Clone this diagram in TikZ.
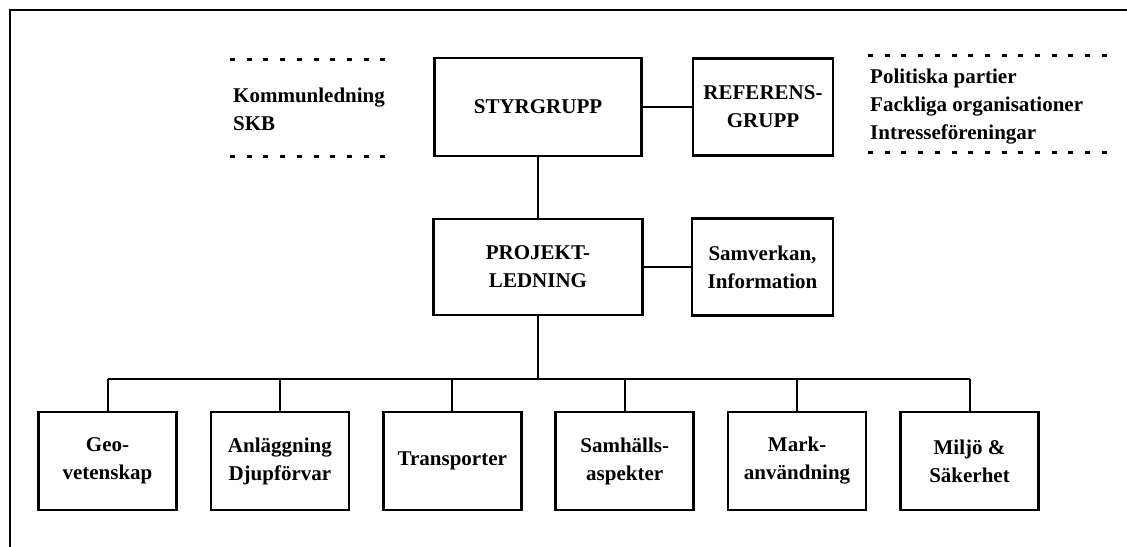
\documentclass[tikz,border=0pt]{standalone}
\usepackage{fontspec}
\setmainfont{Liberation Serif}
\begin{document}
\begin{tikzpicture}[x=1bp,y=-1bp,
  every node/.style={font=\fontsize{21bp}{28bp}\selectfont\bfseries},
  box/.style={draw, line width=2.5bp, inner sep=0pt, align=center},
  subbox/.style={box, minimum width=138bp, minimum height=98bp},
  conn/.style={line width=2bp},
  dotline/.style={line width=3bp, dash pattern=on 5bp off 11.7bp},
  frameline/.style={line width=1.5bp}]
\useasboundingbox (0,0) rectangle (1127,547);
% frame
\draw[frameline] (10,547) -- (10,10) -- (1127,10);
% top row
\node[box, minimum width=207bp, minimum height=98bp] (styr) at (538,107) {STYRGRUPP};
\node[box, minimum width=140bp, minimum height=97bp] (ref) at (763,107) {REFERENS-\\GRUPP};
\node[box, minimum width=209bp, minimum height=96bp] (proj) at (538,267) {PROJEKT-\\LEDNING};
\node[box, minimum width=141bp, minimum height=97bp] (sam) at (762.5,267) {Samverkan,\\Information};
% side texts
\node[anchor=west, align=left, inner sep=0pt] (kom) at (233,109) {Kommunledning\\SKB};
\node[anchor=west, align=left, inner sep=0pt] (pol) at (870,107) {Politiska partier\\Fackliga organisationer\\Intresseföreningar};
\draw[dotline] (230,60) -- (397,60);
\draw[dotline] (230,157) -- (397,157);
\draw[dotline] (868,56) -- (1107,56);
\draw[dotline] (868,153) -- (1107,153);
% bottom row
\node[subbox] (b1) at (107.5,461) {Geo-\\vetenskap};
\node[subbox] (b2) at (279.9,461) {Anläggning\\Djupförvar};
\node[subbox] (b3) at (452.3,461) {Transporter};
\node[subbox] (b4) at (624.7,461) {Samhälls-\\aspekter};
\node[subbox] (b5) at (797.1,461) {Mark-\\användning};
\node[subbox] (b6) at (969.5,461) {Miljö \&\\Säkerhet};
% connectors
\coordinate (bus) at (538,379);
\draw[conn] (styr.east) -- (ref.west);
\draw[conn] (styr.south) -- (proj.north);
\draw[conn] (proj.east) -- (sam.west);
\draw[conn] (proj.south) -- (bus);
\draw[conn] (b1.north |- bus) -- (b6.north |- bus);
\foreach \b in {b1,b2,b3,b4,b5,b6}
  \draw[conn] (\b.north) -- (\b.north |- bus);
\end{tikzpicture}
\end{document}
